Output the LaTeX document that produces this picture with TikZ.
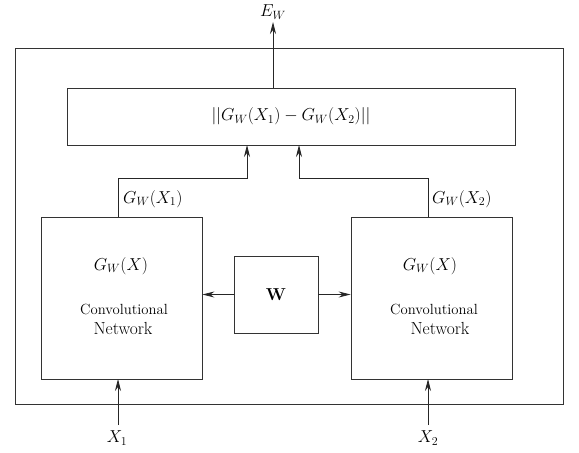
\documentclass[tikz,border=0pt]{standalone}
\usetikzlibrary{arrows.meta}
\begin{document}
\begin{tikzpicture}[x=1pt,y=-1pt,
  font=\fontsize{17.5}{20}\selectfont,
  box/.style={draw=black!80,line width=0.8pt,inner sep=0pt},
  conn/.style={draw=black!85,line width=0.8pt,-{Stealth[length=12pt,width=6pt,inset=4pt]}},
  lbl/.style={inner sep=0pt},
  convtxt/.style={inner sep=0pt,font=\fontsize{14.7}{17}\selectfont}]
\useasboundingbox (0,0) rectangle (579,453);
% outer frame
\node[box,minimum width=548pt,minimum height=356pt] (outer) at (289,226) {};
% distance box
\node[box,minimum width=448pt,minimum height=57pt] (dist) at (291,116.5) {$||G_W(X_1)-G_W(X_2)||$};
% networks
\node[box,minimum width=161pt,minimum height=162pt] (left) at (121.5,298) {};
\node[box,minimum width=161pt,minimum height=162pt] (right) at (431.5,298) {};
\node[box,minimum width=84pt,minimum height=77pt] (wbox) at (276,294.5) {$\mathbf{W}$};
% texts inside networks
\node[lbl] (lg) at (121,266) {$G_W(X)$};
\node[convtxt] (lc) at (124,309) {Convolutional};
\node[lbl] (ln) at (123,328) {Network};
\node[lbl] (rg) at (430,266) {$G_W(X)$};
\node[convtxt] (rc) at (434,309) {Convolutional};
\node[lbl] (rn) at (440,328) {Network};
% coordinates
\coordinate (lout) at (118,217);
\coordinate (rout) at (428,217);
\coordinate (lbend) at (118,178);
\coordinate (rbend) at (428,178);
\coordinate (lturn) at (247,178);
\coordinate (rturn) at (299,178);
\coordinate (lin) at (247,145);
\coordinate (rin) at (299,145);
\coordinate (etop) at (273,22);
\coordinate (ebot) at (273,88);
\coordinate (x1s) at (118,425);
\coordinate (x1e) at (118,379);
\coordinate (x2s) at (428,425);
\coordinate (x2e) at (428,379);
% connectors
\draw[conn] (lout) -- (lbend) -- (lturn) -- (lin);
\draw[conn] (rout) -- (rbend) -- (rturn) -- (rin);
\draw[conn] (ebot) -- (etop);
\draw[conn] (x1s) -- (x1e);
\draw[conn] (x2s) -- (x2e);
\draw[conn] (wbox.west) -- (left.east |- wbox.west);
\draw[conn] (wbox.east) -- (right.west |- wbox.east);
% labels
\node[lbl] (ew) at (273,12) {$E_W$};
\node[lbl,anchor=west] (g1) at (123,199) {$G_W(X_1)$};
\node[lbl,anchor=west] (g2) at (432,199) {$G_W(X_2)$};
\node[lbl] (x1) at (117,438) {$X_1$};
\node[lbl] (x2) at (428,438) {$X_2$};
\end{tikzpicture}
\end{document}
